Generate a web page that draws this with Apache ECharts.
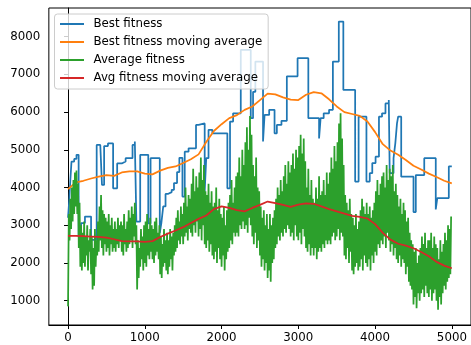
<!DOCTYPE html>
<html>
<head>
<meta charset="utf-8">
<script src="https://cdn.jsdelivr.net/npm/echarts@6/dist/echarts.min.js"></script>
<style>
  html, body { margin: 0; padding: 0; background: #fff; }
  #chart { width: 471px; height: 345px; }
</style>
</head>
<body>
<div id="chart"></div>
<script>
// Best fitness: generation where the value changes, and the new value (step line)
const bestGen = [0, 15, 30, 45, 80, 110, 138, 170, 220, 300, 373, 420, 442, 470, 520, 587, 640, 700, 750, 840, 870, 890, 940, 1045, 1075, 1195, 1215, 1240, 1270, 1300, 1350, 1380, 1420, 1450, 1490, 1520, 1570, 1667, 1700, 1780, 1800, 1830, 1880, 2075, 2110, 2150, 2250, 2380, 2410, 2440, 2540, 2560, 2620, 2690, 2720, 2780, 2850, 2990, 3130, 3270, 3290, 3330, 3400, 3450, 3527, 3586, 3740, 3785, 3887, 3930, 3963, 4006, 4050, 4090, 4135, 4178, 4190, 4240, 4263, 4285, 4300, 4340, 4500, 4530, 4640, 4790, 4810, 4960, 4999];
const bestVal = [3200, 3650, 4200, 4690, 4760, 4870, 2700, 3060, 3230, 2610, 5130, 5170, 4070, 5100, 5170, 3980, 4640, 4690, 4780, 5130, 5220, 3100, 4870, 3050, 4780, 2790, 3050, 3500, 3830, 3880, 3940, 4120, 4410, 4790, 3760, 4950, 5040, 5660, 5700, 3890, 4780, 5530, 5440, 3980, 5750, 5970, 7650, 5840, 6540, 7340, 5220, 5925, 6060, 5440, 5660, 5770, 6950, 7430, 5840, 5300, 5840, 5970, 6060, 7340, 8400, 6590, 4160, 5880, 4160, 4380, 4650, 4820, 5880, 5970, 6230, 6320, 4380, 4780, 5170, 5700, 5880, 4290, 3350, 4330, 4780, 3420, 3720, 4560, 4560];

// Moving averages, sampled every 100 generations
const maGen = [0, 100, 200, 300, 400, 500, 600, 700, 800, 900, 1000, 1100, 1200, 1300, 1400, 1500, 1600, 1700, 1800, 1900, 2000, 2100, 2200, 2300, 2400, 2500, 2600, 2700, 2800, 2900, 3000, 3100, 3200, 3300, 3400, 3500, 3600, 3700, 3800, 3900, 4000, 4100, 4200, 4300, 4400, 4500, 4600, 4700, 4800, 4900, 4999];
const bestMovingAvg = [3960, 4140, 4180, 4240, 4290, 4330, 4310, 4400, 4430, 4430, 4370, 4350, 4450, 4520, 4560, 4650, 4750, 4880, 5210, 5500, 5680, 5840, 5920, 6060, 6150, 6320, 6490, 6470, 6390, 6330, 6320, 6460, 6530, 6500, 6340, 6150, 6000, 5950, 5900, 5750, 5470, 5150, 4980, 4870, 4730, 4580, 4480, 4370, 4280, 4180, 4110];
const avgMovingAvg = [2720, 2720, 2710, 2700, 2690, 2670, 2630, 2580, 2570, 2570, 2560, 2580, 2690, 2780, 2860, 2950, 3060, 3170, 3260, 3430, 3500, 3460, 3400, 3370, 3460, 3540, 3630, 3590, 3540, 3490, 3550, 3580, 3570, 3500, 3430, 3370, 3310, 3250, 3220, 3180, 3030, 2800, 2620, 2510, 2460, 2390, 2290, 2180, 2030, 1930, 1860];

// Average fitness of the population, one value every 10 generations
const avgStep = 10;
const avgFitness = [
  850, 3300, 2600, 3700, 2900, 4000, 3100, 4200, 3300, 4400,
  3500, 4450, 3300, 4100, 2400, 3600, 1900, 3000, 1800, 2800,
  2000, 3100, 1900, 2700, 2200, 3000, 1800, 2600, 2300, 2900,
  1700, 2700, 1300, 2400, 1400, 2900, 1900, 2600, 2200, 3100,
  2300, 3500, 2600, 3800, 2400, 3400, 2200, 3300, 2500, 3200,
  2300, 3100, 2400, 3300, 2200, 3000, 2500, 3200, 2300, 2900,
  2400, 3100, 2300, 2900, 2500, 3200, 2400, 3000, 2600, 3100,
  2300, 3000, 2200, 3300, 2500, 2900, 2300, 3100, 2400, 3400,
  2500, 3200, 2600, 3500, 2400, 3300, 2700, 3600, 2500, 3000,
  1300, 2600, 1600, 2400, 1900, 2900, 2100, 2700, 1800, 3000,
  2000, 3100, 1900, 3300, 2200, 2900, 2100, 3200, 2300, 3000,
  2100, 2900, 2000, 3100, 2200, 3200, 2300, 2800, 2100, 3000,
  1700, 2700, 1600, 2500, 1900, 2900, 2000, 2600, 1800, 2800,
  1700, 2600, 1900, 2900, 2100, 2700, 1800, 2800, 2200, 3000,
  2300, 3200, 2400, 3400, 2600, 3100, 2500, 3500, 2700, 3300,
  2500, 3600, 2700, 4000, 2800, 3500, 2600, 3800, 2900, 3700,
  2800, 4100, 2700, 4500, 3000, 3900, 2800, 4300, 3100, 4000,
  2700, 4400, 2900, 4800, 2600, 4200, 3000, 4600, 2500, 3900,
  2400, 3800, 2600, 4100, 2300, 3600, 2500, 3900, 2200, 3500,
  2100, 3600, 2300, 4000, 2000, 3400, 2400, 3700, 2100, 3300,
  1900, 3200, 2200, 3500, 1800, 3000, 2100, 3400, 2300, 3600,
  2400, 3800, 2600, 4200, 2500, 3600, 2800, 4000, 2700, 4300,
  2800, 4400, 2700, 4800, 3000, 4300, 2900, 5000, 3100, 4600,
  2900, 5200, 3000, 5600, 2800, 5000, 3200, 5900, 3000, 5400,
  2700, 4600, 2500, 4300, 2800, 4800, 2400, 4000, 2600, 3900,
  2200, 3500, 1900, 3200, 2100, 3400, 1800, 3000, 2000, 3300,
  1600, 2900, 1800, 3300, 1500, 3000, 2000, 3200, 2100, 3400,
  2400, 3700, 2500, 4000, 2700, 3800, 2600, 4200, 2800, 3900,
  2700, 4300, 2900, 4600, 2800, 4100, 3000, 4700, 2900, 4400,
  2700, 4600, 2800, 4900, 2600, 4500, 3000, 5000, 2700, 4800,
  2600, 5100, 2800, 5400, 2500, 4900, 2900, 5300, 2700, 4700,
  2400, 4000, 2300, 4500, 2500, 3800, 2200, 4200, 2400, 3700,
  2200, 3600, 2400, 4000, 2100, 3700, 2300, 4300, 2400, 3800,
  2300, 3900, 2500, 4200, 2400, 3800, 2600, 4400, 2500, 4100,
  2600, 4400, 2500, 4800, 2700, 4500, 2800, 5100, 2600, 4700,
  2700, 5200, 2900, 5700, 2600, 5970, 2800, 5300, 2700, 4600,
  2200, 3800, 2100, 3600, 2400, 3400, 2000, 3700, 2300, 3300,
  1800, 3200, 1700, 3000, 1900, 3300, 2000, 2900, 1800, 3100,
  1900, 3400, 2100, 3700, 1800, 3500, 2200, 3300, 2000, 3600,
  1900, 3300, 2100, 3500, 1800, 3200, 2200, 3400, 2000, 3600,
  2300, 3900, 2200, 4200, 2500, 3800, 2400, 4100, 2600, 4300,
  2500, 4400, 2700, 4000, 2400, 4600, 2800, 4200, 2600, 4500,
  2300, 4300, 2500, 4600, 2200, 3900, 2400, 4100, 2100, 3800,
  2000, 3500, 2200, 3700, 1900, 3300, 2100, 3600, 2000, 3400,
  1700, 3100, 1900, 3200, 1500, 2800, 1400, 2600, 1300, 2500,
  900, 2300, 1100, 2400, 800, 2000, 1200, 2200, 1000, 2400,
  1200, 2700, 1300, 2500, 1100, 2800, 1400, 2400, 1200, 2600,
  1100, 2600, 1300, 2800, 1000, 2400, 1200, 2700, 1300, 2500,
  1000, 2400, 760, 2100, 1100, 2600, 900, 2300, 1200, 2500,
  1400, 2800, 1300, 2600, 1500, 3000, 1600, 2900, 1700, 3230
];

// Axis ticks
const xTicks = [0, 1000, 2000, 3000, 4000, 5000];
const yTicks = [1000, 2000, 3000, 4000, 5000, 6000, 7000, 8000];

const seriesNames = ['Best fitness', 'Best fitness moving average', 'Average fitness', 'Avg fitness moving average'];
const colors = ['#1f77b4', '#ff7f0e', '#2ca02c', '#d62728'];

const font = 'DejaVu Sans';
const lineW = 1.75;

const chart = echarts.init(document.getElementById('chart'), null, { renderer: 'canvas' });

function tickAxis(ticks, min, max, margin) {
  return {
    type: 'value', min: min, max: max,
    axisLine: { show: true, lineStyle: { color: '#000', width: 1 } },
    axisTick: { show: true, length: 4, customValues: ticks, lineStyle: { color: '#000', width: 1 } },
    axisLabel: {
      customValues: ticks, fontFamily: font, fontSize: 11.8, color: '#000', margin: margin,
      formatter: v => String(v)
    },
    splitLine: { show: false }
  };
}

const lineSeries = (i, data, extra) => Object.assign({
  name: seriesNames[i], type: 'line', symbol: 'none', legendIcon: 'rect',
  lineStyle: { width: lineW, color: colors[i] },
  itemStyle: { color: colors[i] },
  data: data
}, extra || {});

chart.setOption({
  animation: false,
  backgroundColor: '#fff',
  color: colors,
  grid: {
    left: 48.85, top: 8, width: 427.8, height: 317,
    show: true, borderColor: '#000', borderWidth: 1, backgroundColor: '#fff'
  },
  legend: {
    orient: 'vertical',
    left: 54.5, top: 14,
    padding: [4, 6, 5, 4.5],
    itemWidth: 24, itemHeight: 1.8, itemGap: 6,
    backgroundColor: 'rgba(255,255,255,0.8)',
    borderColor: '#cccccc', borderWidth: 1, borderRadius: 3,
    textStyle: { fontFamily: font, fontSize: 11.8, color: '#000', padding: [0, 0, 0, 4.5] },
    data: seriesNames
  },
  xAxis: tickAxis(xTicks, -250, 5249, 7),
  yAxis: tickAxis(yTicks, 356, 8761, 8.5),
  series: [
    lineSeries(0, bestGen.map((g, i) => [g, bestVal[i]]), { step: 'end' }),
    lineSeries(1, maGen.map((g, i) => [g, bestMovingAvg[i]])),
    lineSeries(2, avgFitness.map((v, i) => [i * avgStep, v])),
    lineSeries(3, maGen.map((g, i) => [g, avgMovingAvg[i]]))
  ]
});
</script>
</body>
</html>
